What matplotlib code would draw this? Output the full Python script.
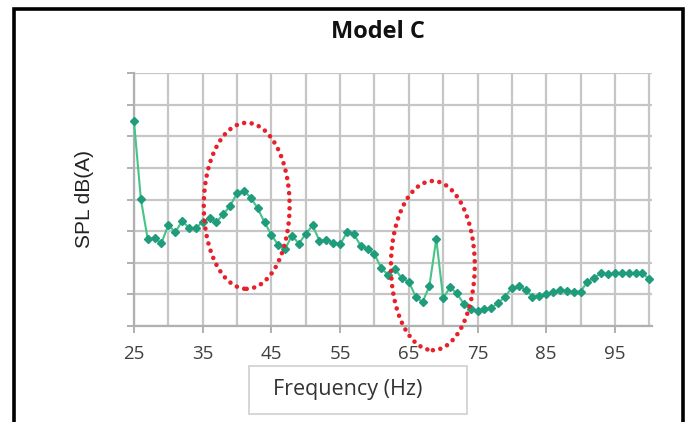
import matplotlib.pyplot as plt
from matplotlib.patches import Ellipse, Rectangle
import numpy as np

# SPL readings, one per Hz, in grid units (no scale is printed on the axis)
freq_hz = list(range(25, 101))
spl = [6.47, 4.01, 2.74, 2.77, 2.62, 3.20, 2.96, 3.32, 3.11, 3.09,
       3.30, 3.41, 3.28, 3.54, 3.80, 4.20, 4.27, 4.06, 3.72, 3.28,
       2.88, 2.56, 2.44, 2.86, 2.60, 2.92, 3.18, 2.69, 2.72, 2.64,
       2.58, 2.96, 2.90, 2.54, 2.44, 2.27, 1.83, 1.61, 1.79, 1.51,
       1.40, 0.93, 0.75, 1.27, 2.75, 0.88, 1.22, 1.03, 0.70, 0.53,
       0.48, 0.53, 0.58, 0.72, 0.93, 1.20, 1.25, 1.15, 0.93, 0.96,
       1.00, 1.07, 1.14, 1.10, 1.09, 1.09, 1.40, 1.53, 1.67, 1.63,
       1.67, 1.67, 1.67, 1.67, 1.67, 1.48]
x_labels = [25, 35, 45, 55, 65, 75, 85, 95]

# highlighted regions: (centre Hz, centre level, width Hz, height)
highlights = [(41.4, 3.80, 12.5, 5.25), (68.5, 1.91, 12.2, 5.35)]

fig = plt.figure(figsize=(6.88, 4.22), dpi=100)
ax = fig.add_axes([134 / 688, 1 - 326 / 422, 518 / 688, 253 / 422])

grid_c = "#c6c6c6"
ax.set_xlim(25, 100.4)
ax.set_ylim(0, 8)
ax.set_xticks(x_labels)
ax.set_xticks(np.arange(30, 101, 5), minor=True)
ax.set_yticks(np.arange(0, 9, 1))
ax.set_yticklabels([])
ax.grid(True, which="both", color=grid_c, linewidth=1.6)
ax.set_axisbelow(True)
for s in ["top", "right"]:
    ax.spines[s].set_visible(False)
for s in ["left", "bottom"]:
    ax.spines[s].set_color("#b0b0b0")
    ax.spines[s].set_linewidth(1.6)
ax.tick_params(axis="both", which="major", length=5, width=1.4, color="#b0b0b0")
ax.tick_params(axis="x", which="minor", length=0)
ax.tick_params(axis="x", which="major", pad=9, labelsize=13.5, labelcolor="#404040")
for lbl in ax.get_xticklabels():
    lbl.set_fontfamily("Open Sans")

ax.plot(freq_hz, spl, color="#45c486", linewidth=1.5, marker="D",
        markersize=4, markerfacecolor="#1f9c7c", markeredgecolor="#1f9c7c",
        clip_on=False, zorder=3)

for cx, cy, w, h in highlights:
    ax.add_patch(Ellipse((cx, cy), w, h, fill=False, edgecolor="#e8202a",
                         linewidth=3.3, linestyle=(0, (0.01, 1.65)),
                         capstyle="round", clip_on=False, zorder=4))

ax.set_ylabel("SPL dB(A)", fontsize=15, family="Liberation Sans",
              color="#222222", labelpad=20)

fig.text(378 / 688, 1 - 32 / 422, "Model C", ha="center", va="center",
         fontsize=17, fontweight="bold", family="Open Sans", color="#111111")

# axis title sits in its own light-grey box
fig.patches.append(Rectangle((249 / 688, 1 - 414 / 422), 218 / 688, 48 / 422,
                             transform=fig.transFigure, facecolor="white",
                             edgecolor="#d0d0d0", linewidth=1.2))
fig.text(348 / 688, 1 - 390 / 422, "Frequency (Hz)", ha="center", va="center",
         fontsize=15.5, family="Open Sans", color="#333333")

# outer chart frame, open at the bottom edge
fig.patches.append(Rectangle((14 / 688, -0.05), 669 / 688, 1.05 - 9 / 422,
                             transform=fig.transFigure, fill=False,
                             edgecolor="black", linewidth=2.6))

fig.savefig("out.png", dpi=100)
